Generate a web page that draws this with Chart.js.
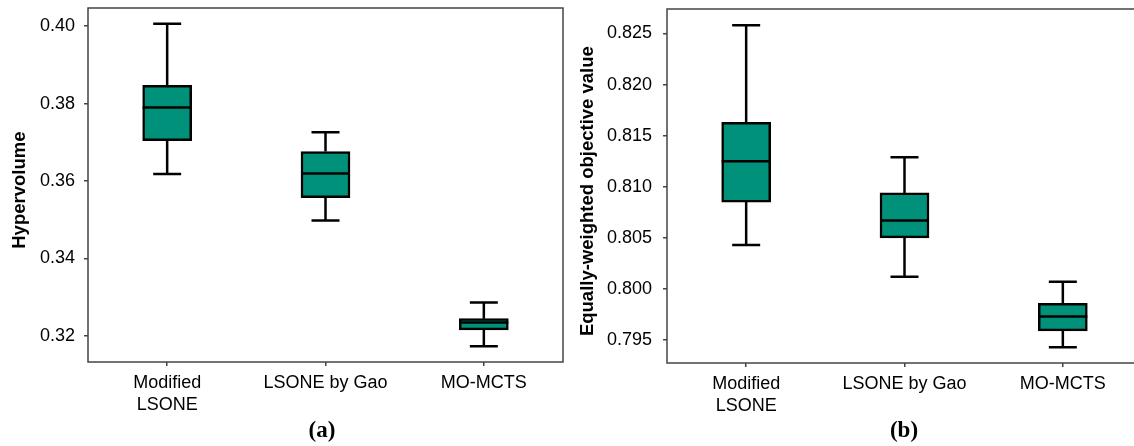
<!DOCTYPE html>
<html>
<head>
<meta charset="utf-8">
<script src="https://cdn.jsdelivr.net/npm/chart.js@4/dist/chart.umd.min.js"></script>
<style>
  html, body { margin: 0; padding: 0; background: #fff; overflow: hidden; }
  body { width: 1134px; height: 446px; position: relative; }
  canvas { position: absolute; top: 0; }
  .tag { position: absolute; top: 417px; font: bold 23px "Liberation Serif", "Times New Roman", serif; color: #000; transform: translateX(-50%); }
</style>
</head>
<body>
<canvas id="chartA" width="575" height="446" style="left:0"></canvas>
<canvas id="chartB" width="580" height="446" style="left:575px"></canvas>
<div class="tag" style="left:322px">(a)</div>
<div class="tag" style="left:904px">(b)</div>
<script>
// categories
var categories = [['Modified', 'LSONE'], 'LSONE by Gao', 'MO-MCTS']

// (a) hypervolume
var hvMin = [0.3618, 0.3498, 0.3173]
var hvQ1  = [0.3704, 0.3557, 0.3215]
var hvMed = [0.3790, 0.3619, 0.3234]
var hvQ3  = [0.3847, 0.3676, 0.3244]
var hvMax = [0.4006, 0.3726, 0.3286]

// (b) equally-weighted objective value
var ewMin = [0.8043, 0.8012, 0.7943]
var ewQ1  = [0.8085, 0.8050, 0.7959]
var ewMed = [0.8125, 0.8067, 0.7973]
var ewQ3  = [0.8163, 0.8094, 0.7986]
var ewMax = [0.8258, 0.8129, 0.8007]

var boxColor = '#00917a'
var capWidth = 28

// whiskers under the box, median on top, frame round the plot area
var boxPlugin = {
    id: 'boxParts',
    beforeDatasetsDraw: (chart, args, st) => {
        let ctx = chart.ctx
        let xs = chart.scales.x, ys = chart.scales.y
        ctx.save()
        ctx.strokeStyle = '#000'
        ctx.lineWidth = 2.5
        st.min.forEach((v, i) => {
            let x = xs.getPixelForValue(i)
            ctx.beginPath()
            ctx.moveTo(x, ys.getPixelForValue(st.max[i]))
            ctx.lineTo(x, ys.getPixelForValue(st.q3[i]))
            ctx.moveTo(x, ys.getPixelForValue(st.q1[i]))
            ctx.lineTo(x, ys.getPixelForValue(v))
            ctx.moveTo(x - capWidth/2, ys.getPixelForValue(st.max[i]))
            ctx.lineTo(x + capWidth/2, ys.getPixelForValue(st.max[i]))
            ctx.moveTo(x - capWidth/2, ys.getPixelForValue(v))
            ctx.lineTo(x + capWidth/2, ys.getPixelForValue(v))
            ctx.stroke()
        })
        ctx.restore()
    },
    afterDatasetsDraw: (chart, args, st) => {
        let ctx = chart.ctx
        let ys = chart.scales.y
        let meta = chart.getDatasetMeta(0)
        ctx.save()
        ctx.strokeStyle = '#000'
        ctx.lineWidth = 2.5
        meta.data.forEach((bar, i) => {
            let y = ys.getPixelForValue(st.med[i])
            ctx.beginPath()
            ctx.moveTo(bar.x - bar.width/2, y)
            ctx.lineTo(bar.x + bar.width/2, y)
            ctx.stroke()
        })
        let a = chart.chartArea
        ctx.strokeStyle = '#444'
        ctx.lineWidth = 1.5
        ctx.strokeRect(a.left, a.top, a.right - a.left, a.bottom - a.top)
        ctx.restore()
    }
}

function makeBox(id, stats, opts) {
    return new Chart(document.getElementById(id), {
        type: 'bar',
        data: {
            labels: categories,
            datasets: [{
                data: stats.q1.map((v, i) => [v, stats.q3[i]]),
                backgroundColor: boxColor,
                borderColor: '#000',
                borderWidth: 2.5,
                borderSkipped: false,
                barThickness: 49,
            }]
        },
        options: {
            responsive: false,
            animation: false,
            layout: { padding: { top: opts.top, right: opts.right, bottom: 0, left: 0 } },
            plugins: { legend: { display: false }, tooltip: { enabled: false }, boxParts: stats },
            scales: {
                x: {
                    grid: { display: true, drawOnChartArea: false, drawTicks: true, tickLength: 4, offset: false, color: '#444', lineWidth: 1.5 },
                    border: { display: false },
                    ticks: { color: '#000', padding: 6, font: { family: 'Liberation Sans, Arial, sans-serif', size: 18, lineHeight: 1.22 } },
                    afterFit: (s) => { s.height = opts.xHeight; s.paddingLeft = 0; s.paddingRight = 0 }
                },
                y: {
                    min: opts.min,
                    max: opts.max,
                    grid: { display: true, drawOnChartArea: false, drawTicks: true, tickLength: 4, color: '#444', lineWidth: 1.5 },
                    border: { display: false },
                    ticks: {
                        stepSize: opts.step,
                        includeBounds: false,
                        color: '#000',
                        padding: opts.tickPad,
                        font: { family: 'Liberation Sans, Arial, sans-serif', size: 18 },
                        callback: (v) => v.toFixed(opts.digits)
                    },
                    title: {
                        display: true,
                        text: opts.title,
                        color: '#000',
                        padding: { top: opts.titlePad, bottom: 0 },
                        font: { family: 'Liberation Sans, Arial, sans-serif', size: 18.5, weight: 'bold', lineHeight: 1.2 }
                    },
                    afterFit: (s) => { s.width = opts.yWidth; s.paddingTop = 0; s.paddingBottom = 0 }
                }
            }
        },
        plugins: [boxPlugin]
    })
}

// trailing spaces nudge the rotated titles down a little, as in the source figure
makeBox('chartA', { min: hvMin, q1: hvQ1, med: hvMed, q3: hvQ3, max: hvMax }, {
    min: 0.3132, max: 0.4047, step: 0.02, digits: 2,
    title: 'Hypervolume  ', titlePad: 9, tickPad: 9,
    yWidth: 88, xHeight: 84, top: 8, right: 12
})
makeBox('chartB', { min: ewMin, q1: ewQ1, med: ewMed, q3: ewQ3, max: ewMax }, {
    min: 0.79275, max: 0.8274, step: 0.005, digits: 3,
    title: 'Equally-weighted objective value  ', titlePad: 2, tickPad: 11,
    yWidth: 92, xHeight: 83, top: 9, right: 13
})
</script>
</body>
</html>
